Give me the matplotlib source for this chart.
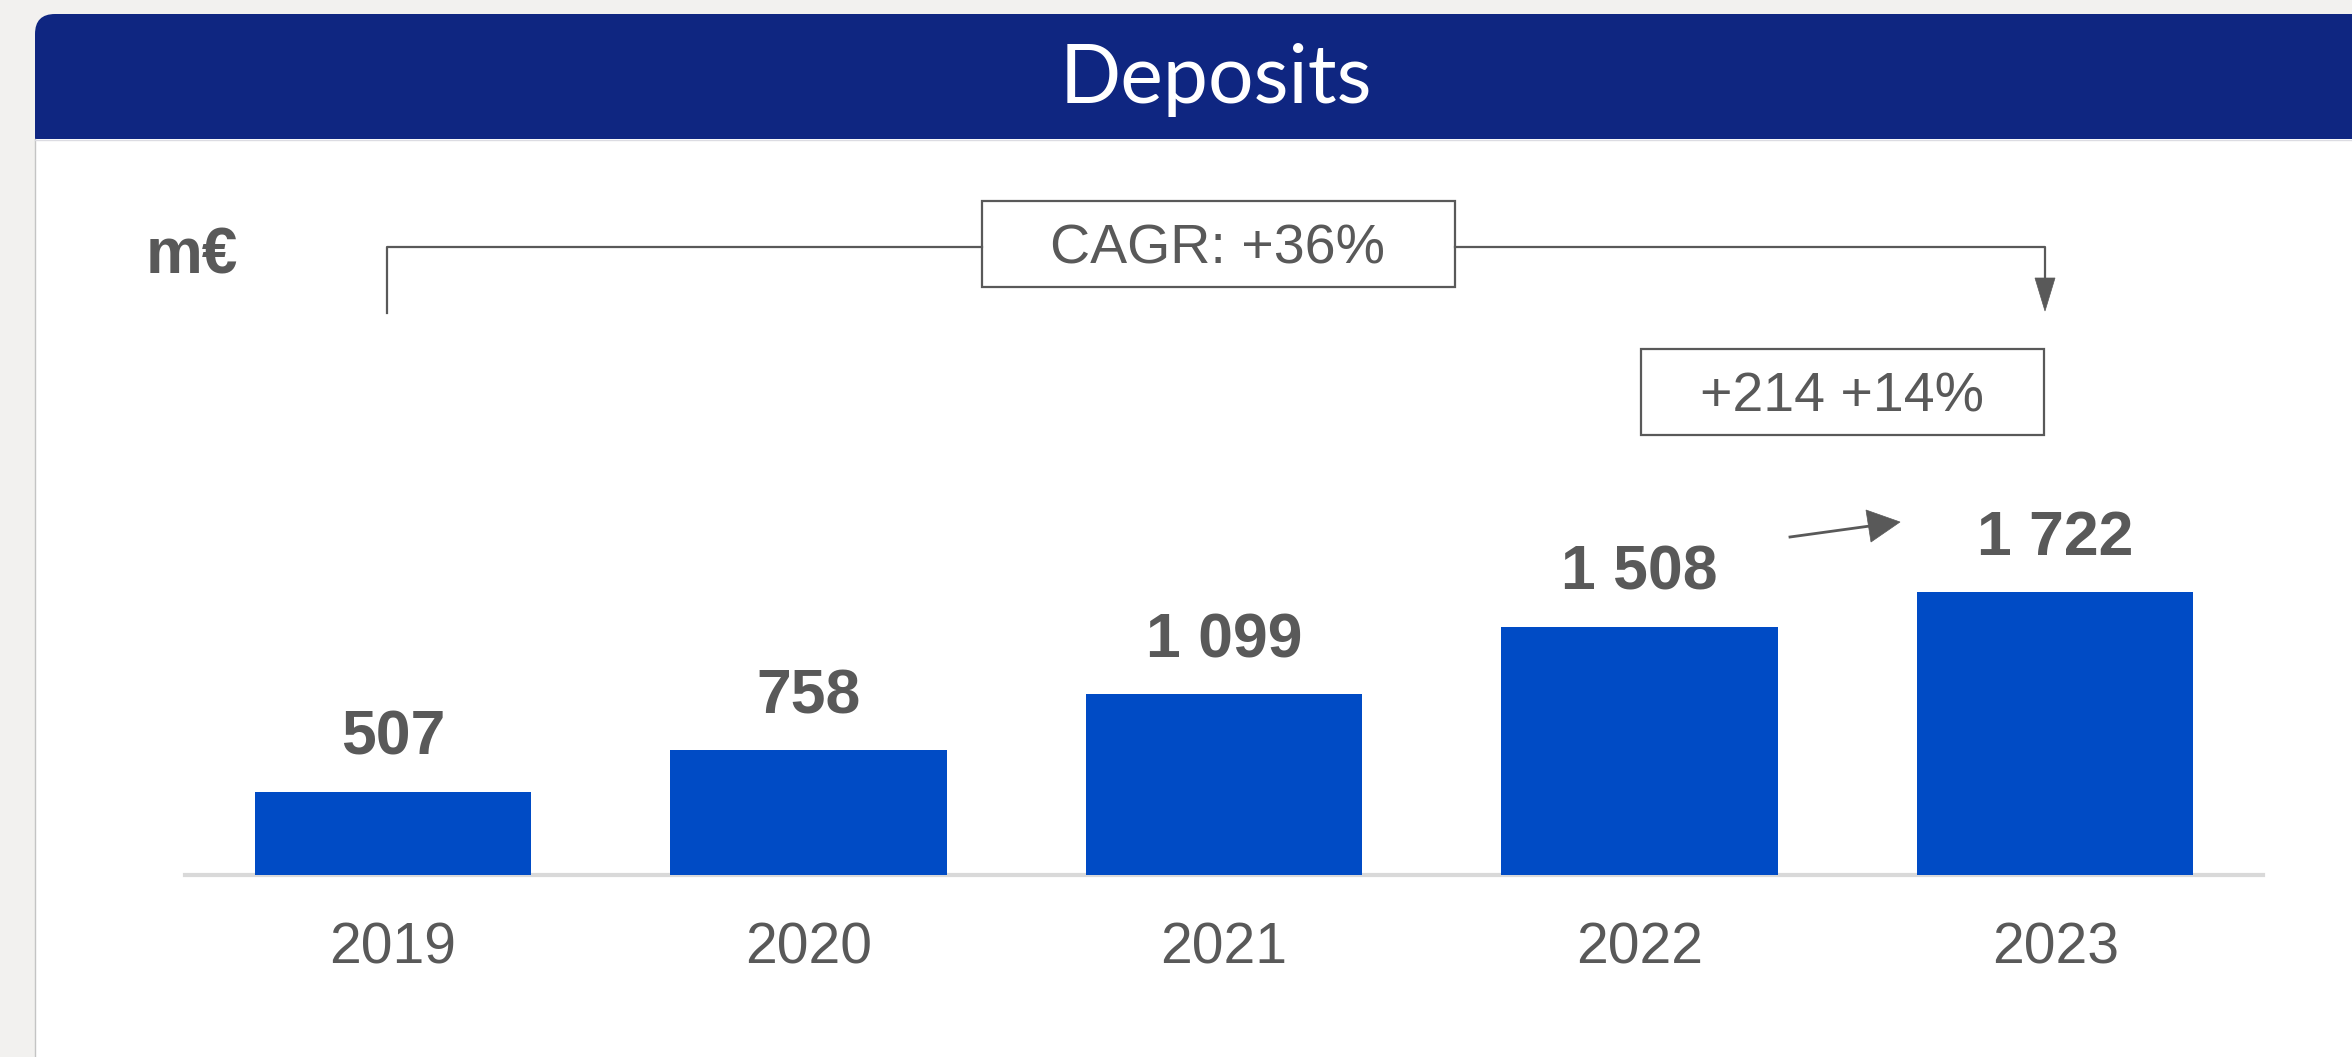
import matplotlib
matplotlib.use("Agg")
import matplotlib.pyplot as plt
import matplotlib.transforms as mtransforms
from matplotlib.patches import Rectangle, FancyBboxPatch, Polygon
from matplotlib.lines import Line2D

# ---- data ----
years = ["2019", "2020", "2021", "2022", "2023"]
deposits = [507, 758, 1099, 1508, 1722]
value_labels = ["507", "758", "1 099", "1 508", "1 722"]
title = "Deposits"
unit = "m€"
cagr_text = "CAGR: +36%"
delta_text = "+214 +14%"

# ---- style ----
W, H = 2352, 1057
DPI = 100
BG = "#F2F1EF"
HEADER = "#0F2681"
BAR = "#004BC5"
TXT = "#595959"
AXLINE = "#D9D9D9"

plt.rcParams["font.family"] = ["Liberation Sans", "DejaVu Sans"]

fig = plt.figure(figsize=(W / DPI, H / DPI), dpi=DPI, facecolor=BG)
# pixel transform (origin top-left)
PX = mtransforms.Affine2D().scale(1, -1).translate(0, H)

# card and header
header = FancyBboxPatch((35, 14), W + 100, 160, transform=PX,
                        boxstyle="round,pad=0,rounding_size=20",
                        facecolor=HEADER, edgecolor="none", zorder=-6)
fig.add_artist(header)
fig.add_artist(Rectangle((35, 139), W + 100, H, transform=PX,
                         facecolor="white", edgecolor="none", zorder=-4))
fig.add_artist(Line2D([35, 35], [139, H + 5], transform=PX, color="#C4C4C4",
                      linewidth=1.0, zorder=-3))
fig.add_artist(Line2D([35, W + 5], [140, 140], transform=PX, color="#DCDCE2",
                      linewidth=1.0, zorder=-3))
fig.text(1216, 103, title, transform=PX, ha="center", va="baseline",
         color="white", fontsize=58, family=["Lato", "DejaVu Sans"])

# ---- bar axes ----
scale = 0.1645  # px per unit
ax_left, ax_right, ax_bottom, ax_top = 185, 2263, 875, 140
ax = fig.add_axes([ax_left / W, 1 - ax_bottom / H,
                   (ax_right - ax_left) / W, (ax_bottom - ax_top) / H])
ax.set_facecolor("none")
x = list(range(len(years)))
ax.bar(x, deposits, width=0.665, color=BAR, zorder=3)
ax.set_xlim(-0.5, len(years) - 0.5)
ax.set_ylim(0, (ax_bottom - ax_top) / scale)
for s in ["top", "right", "left"]:
    ax.spines[s].set_visible(False)
ax.spines["bottom"].set_color(AXLINE)
ax.spines["bottom"].set_linewidth(3.0)
ax.spines["bottom"].set_zorder(2)
ax.set_xticks([])
ax.set_yticks([])

for xi, v, lab in zip(x, deposits, value_labels):
    ax.annotate(lab, xy=(xi, v), xytext=(0, 37), textcoords="offset pixels",
                ha="center", va="baseline", fontsize=45, fontweight="bold",
                color=TXT)
for xi, yr in zip(x, years):
    ax.annotate(yr, xy=(xi, 0), xytext=(0, -88), textcoords="offset pixels",
                ha="center", va="baseline", fontsize=41, color=TXT)

# unit label
fig.text(146, 274, unit, transform=PX, ha="left", va="baseline",
         fontsize=46, fontweight="bold", color=TXT)

# CAGR bracket
lw = 1.6
fig.add_artist(Line2D([387, 387, 982], [313, 247, 247], transform=PX,
                      color=TXT, linewidth=lw))
fig.add_artist(Line2D([1455, 2045, 2045], [247, 247, 282], transform=PX,
                      color=TXT, linewidth=lw))
fig.add_artist(Polygon([[2035, 278], [2055, 278], [2045, 311]], closed=True,
                       transform=PX, facecolor=TXT, edgecolor=TXT, linewidth=0.5))
fig.add_artist(Rectangle((982, 201), 473, 86, transform=PX, facecolor="white",
                         edgecolor=TXT, linewidth=lw))
fig.text(1218, 244, cagr_text, transform=PX, ha="center", va="center_baseline",
         fontsize=40, color=TXT)

# delta box
fig.add_artist(Rectangle((1641, 349), 403, 86, transform=PX, facecolor="white",
                         edgecolor=TXT, linewidth=lw))
fig.text(1842, 392, delta_text, transform=PX, ha="center", va="center_baseline",
         fontsize=40, color=TXT)

# small arrow
fig.add_artist(Line2D([1790, 1870], [537, 526], transform=PX, color=TXT,
                      linewidth=2.0))
fig.add_artist(Polygon([[1900, 522], [1866, 510], [1871, 542]], closed=True,
                       transform=PX, facecolor=TXT, edgecolor=TXT, linewidth=0.5))

fig.savefig("out.png", dpi=DPI, facecolor=BG)
